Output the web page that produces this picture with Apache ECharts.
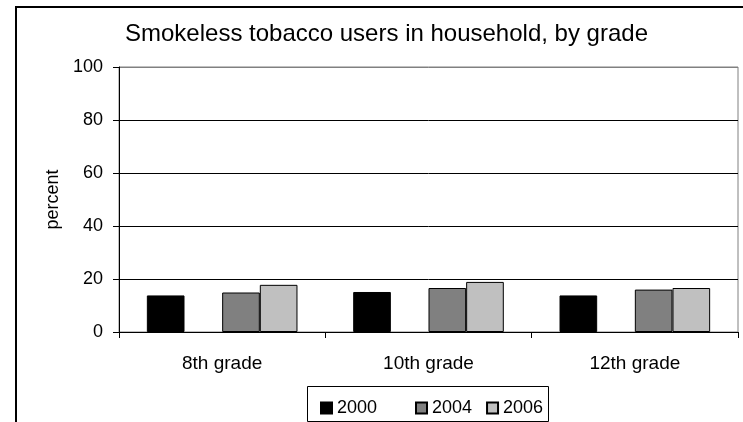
<!DOCTYPE html>
<html>
<head>
<meta charset="utf-8">
<script src="https://cdn.jsdelivr.net/npm/echarts@6/dist/echarts.min.js"></script>
<style>
html,body{margin:0;padding:0;background:#fff;}
#c{width:743px;height:422px;}
</style>
</head>
<body>
<div id="c"></div>
<script>
const titleText = 'Smokeless tobacco users in household, by grade';
const categories = ['8th grade', '10th grade', '12th grade'];
const years = ['2000', '2002', '2004', '2006'];
const v2000 = [13.8, 15.1, 13.8];
const v2002 = [null, null, null];
const v2004 = [14.9, 16.6, 16.0];
const v2006 = [17.8, 18.9, 16.6];
const yTicks = [0, 20, 40, 60, 80, 100];
const yLabel = 'percent';

const colors = {'2000': '#000000', '2002': '#ffffff', '2004': '#808080', '2006': '#c0c0c0'};
const values = {'2000': v2000, '2002': v2002, '2004': v2004, '2006': v2006};
const FONT = 'Liberation Sans, Arial, sans-serif';

const chart = echarts.init(document.getElementById('c'), null, {renderer: 'canvas'});
chart.setOption({
  animation: false,
  backgroundColor: '#fff',
  title: {
    text: titleText, left: 120, top: 17,
    textStyle: {fontFamily: FONT, fontSize: 24, fontWeight: 'normal', color: '#000'}
  },
  grid: {
    left: 119, right: 5, top: 67, bottom: 90,
    show: true, borderColor: '#808080', borderWidth: 1, backgroundColor: '#fff'
  },
  legend: [
    {
      data: ['2000'], left: 315, top: 394, itemWidth: 11, itemHeight: 11, icon: 'rect',
      textStyle: {fontFamily: FONT, fontSize: 18, color: '#000'}
    },
    {
      data: ['2004', '2006'], left: 410, top: 394, itemWidth: 11, itemHeight: 11, itemGap: 14, icon: 'rect',
      textStyle: {fontFamily: FONT, fontSize: 18, color: '#000'}
    }
  ],
  graphic: [
    {type: 'rect', shape: {x: 16, y: 7, width: 800, height: 500}, style: {fill: 'none', stroke: '#000', lineWidth: 2}, z: 100},
    {type: 'rect', shape: {x: 307.5, y: 386.5, width: 241, height: 35}, style: {fill: 'none', stroke: '#000', lineWidth: 1}, z: 100}
  ],
  xAxis: {
    type: 'category', data: categories,
    axisLine: {show: true, lineStyle: {color: '#000', width: 1}},
    axisTick: {show: true, alignWithLabel: false, length: 6, inside: false, lineStyle: {color: '#000'}},
    axisLabel: {fontFamily: FONT, fontSize: 19, color: '#000', margin: 22},
    splitLine: {show: false}
  },
  yAxis: {
    type: 'value', min: yTicks[0], max: yTicks[yTicks.length - 1], interval: 20,
    name: yLabel, nameLocation: 'middle', nameRotate: 90, nameGap: 57,
    nameTextStyle: {fontFamily: FONT, fontSize: 18, color: '#000'},
    axisLine: {show: true, lineStyle: {color: '#000', width: 1}},
    axisTick: {show: true, length: 6, lineStyle: {color: '#000'}},
    axisLabel: {fontFamily: FONT, fontSize: 18, color: '#000', margin: 16},
    splitLine: {show: true, lineStyle: {color: ['#000', '#000', '#000', '#000', '#000', '#808080'], width: 1}}
  },
  series: years.map(y => ({
    name: y, type: 'bar', data: values[y],
    barGap: '0%', barCategoryGap: '27%',
    itemStyle: {color: colors[y], borderColor: '#000', borderWidth: 1},
    emphasis: {disabled: true}
  }))
});
</script>
</body>
</html>
